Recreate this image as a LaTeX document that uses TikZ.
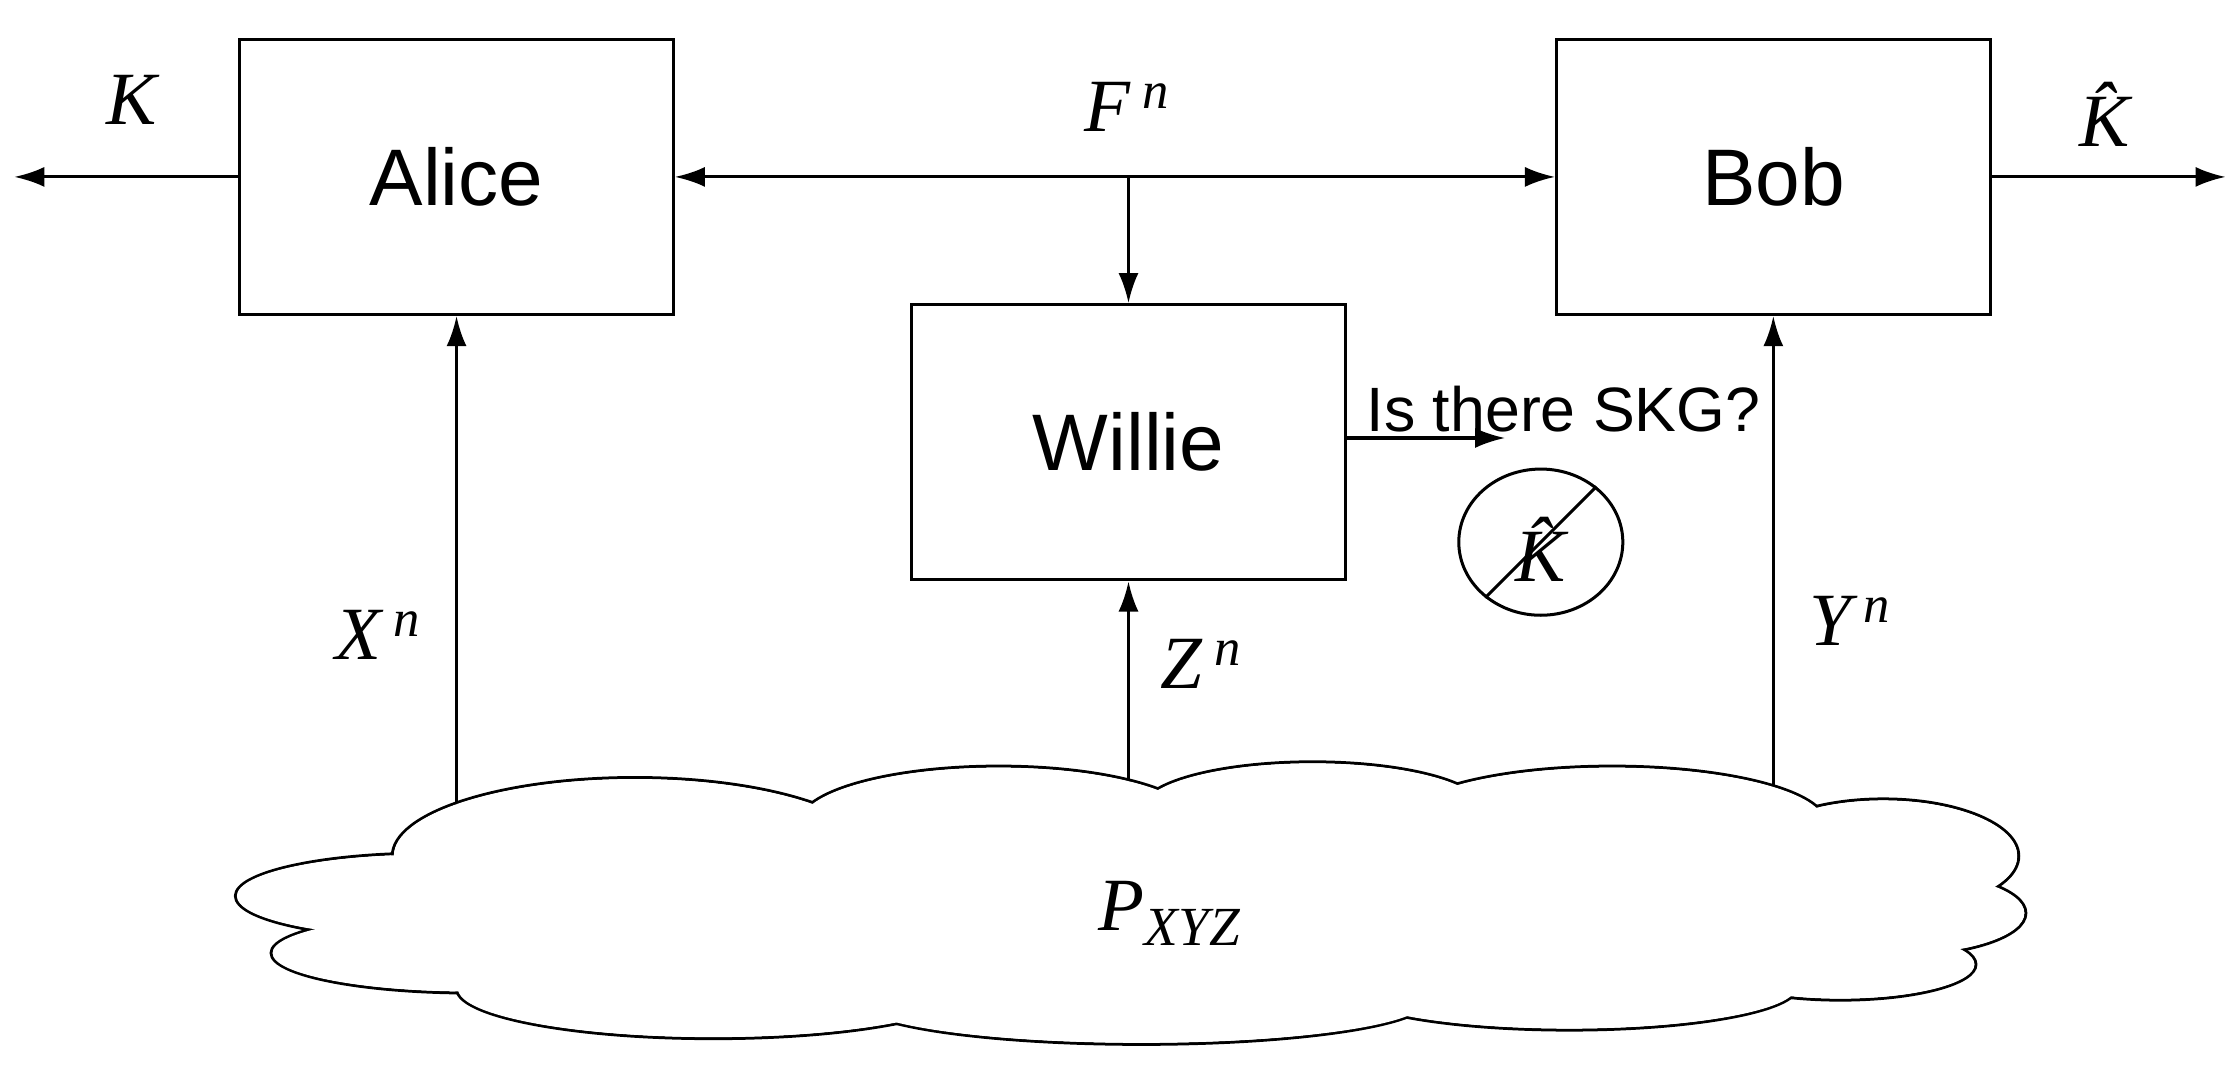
\documentclass[tikz,border=0pt]{standalone}
\usepackage{fontspec}
\setmainfont{Liberation Serif}
\newfontfamily\sansf{Liberation Sans}
\usetikzlibrary{arrows.meta,shapes.geometric}
\begin{document}
\begin{tikzpicture}[x=0.02cm,y=-0.02cm,
  box/.style={draw,line width=1.2pt,minimum width=6.08cm,minimum height=3.86cm,font=\sansf\fontsize{32}{36}\selectfont},
  arr/.style={line width=1.2pt,-{Latex[length=12pt,width=8pt]}},
  mlab/.style={font=\fontsize{30}{34}\selectfont\itshape},
  cl/.style={ellipse,draw,line width=1.2pt,fill=white}]
\useasboundingbox (0,0) rectangle (1568,755);
\node[box] (alice) at (320,124) {Alice};
\node[box] (bob) at (1243,124) {Bob};
\node[box] (willie) at (791,310) {Willie};
\coordinate (kl) at (10,124);
\coordinate (kr) at (1560,124);
\coordinate (fm) at (791,124);
\draw[arr] (alice.west) -- (kl);
\draw[arr] (bob.east) -- (kr);
\draw[line width=1.2pt,{Latex[length=12pt,width=8pt]}-{Latex[length=12pt,width=8pt]}] (alice.east) -- (bob.west);
\draw[arr] (fm) -- (willie.north);
\node[mlab] (lk) at (92,70) {K};
\node[mlab] (lkh) at (1475,80) {\^{K}};
\node[mlab] (lf) at (790,75) {F\,\textsuperscript{n}};
\coordinate (xs) at (320,570);
\coordinate (zs) at (791,550);
\coordinate (ys) at (1243,550);
\draw[arr] (xs) -- (alice.south);
\draw[arr] (zs) -- (willie.south);
\draw[arr] (ys) -- (bob.south);
\node[mlab] (lx) at (265,445) {X\,\textsuperscript{n}};
\node[mlab] (lz) at (842,465) {Z\,\textsuperscript{n}};
\node[mlab] (ly) at (1297,435) {Y\,\textsuperscript{n}};
\coordinate (sk) at (1055,307);
\draw[arr] (willie.east |- sk) -- (sk);
\node[font=\sansf\fontsize{25}{28}\selectfont] (q) at (1096,287) {Is there SKG?};
\node[ellipse,draw,line width=1.2pt,minimum width=2.3cm,minimum height=2.05cm] (c) at (1080,380) {};
\node[mlab] (ck) at (1080,385) {\^{K}};
\draw[line width=1.2pt] (c.225) -- (c.45);
% cloud
\foreach \cx/\cy/\rx/\ry in {445/600/170/55,700/577/140/40,920/567/120/33,1130/577/150/40,1320/600/95/40,300/628/135/30,330/668/140/28,1330/640/90/30,1290/676/95/25,500/693/180/35,800/702/200/30,1100/692/160/30}{
  \draw[line width=1.2pt] (\cx,\cy) ellipse ({\rx*0.02cm} and {\ry*0.02cm});
}
\foreach \cx/\cy/\rx/\ry in {445/600/170/55,700/577/140/40,920/567/120/33,1130/577/150/40,1320/600/95/40,300/628/135/30,330/668/140/28,1330/640/90/30,1290/676/95/25,500/693/180/35,800/702/200/30,1100/692/160/30,800/635/480/60,1250/630/150/45}{
  \fill[white] (\cx,\cy) ellipse ({\rx*0.02cm-0.6pt} and {\ry*0.02cm-0.6pt});
}
\node[mlab] (p) at (820,640) {P\textsubscript{\fontsize{22}{24}\selectfont XYZ}};
\end{tikzpicture}
\end{document}
